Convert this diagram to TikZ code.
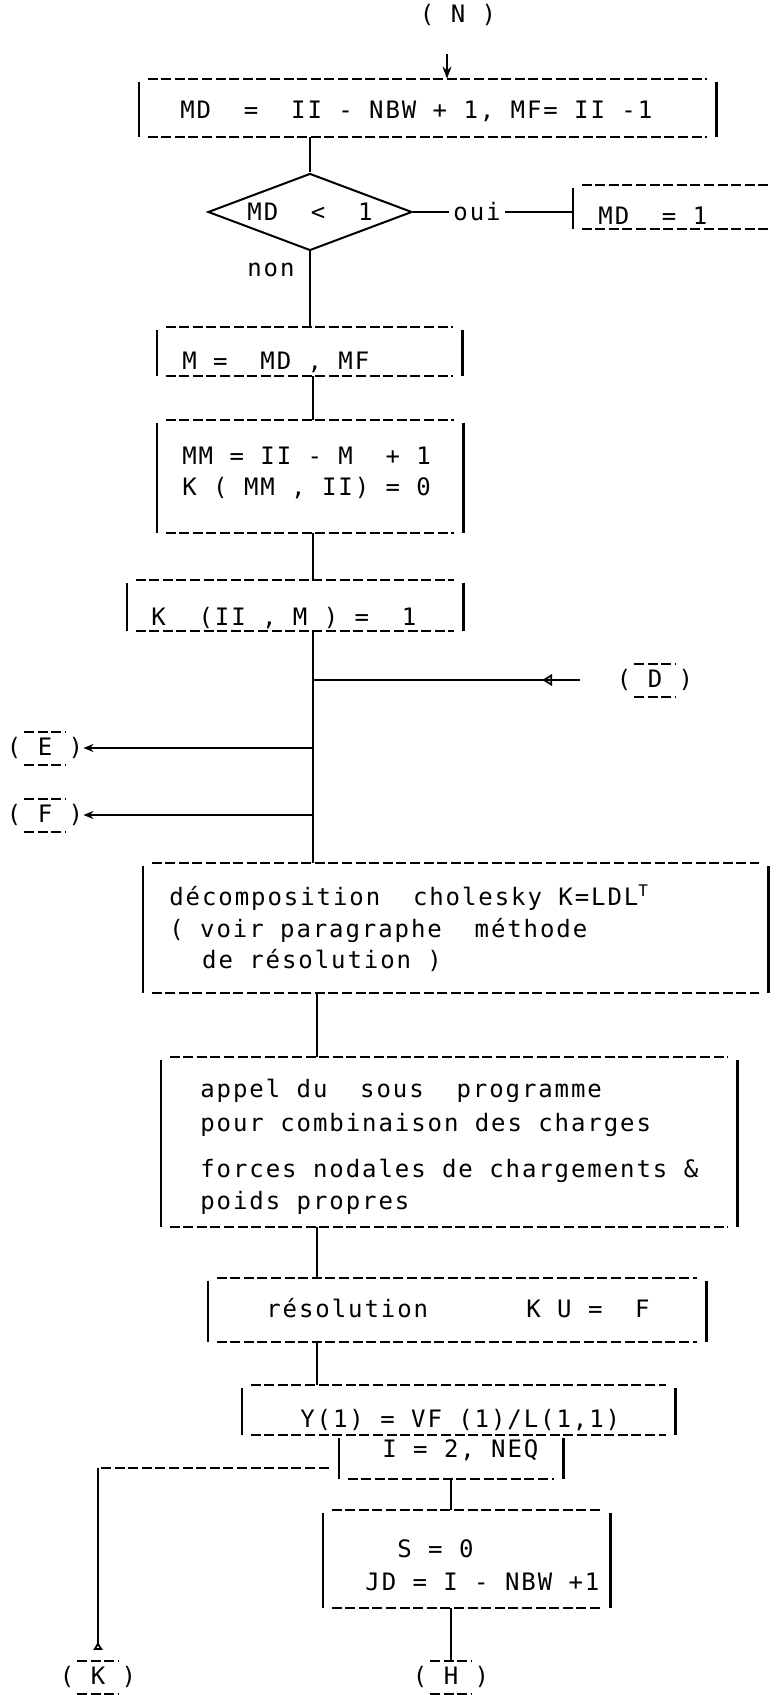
\documentclass[tikz,border=0pt]{standalone}
\usepackage{fontspec}
\newfontfamily\tw[LetterSpace=8]{DejaVu Sans Mono}
\newcommand\twf{\tw\fontsize{12pt}{14pt}\selectfont}
\usetikzlibrary{arrows.meta,shapes.geometric,decorations.markings,positioning}

\tikzset{
  dashline/.style={line width=1pt, dash pattern=on 5pt off 1.8pt},
  bar/.style={line width=1.1pt},
  wire/.style={line width=0.9pt},
  tbox/.style={inner sep=0pt},
  txt/.style={font=\twf, inner sep=0pt, anchor=base west},
  conn/.style={font=\twf, inner sep=0pt},
  decide/.style={diamond, draw, line width=1pt, inner sep=0pt, font=\twf,
    aspect=2.65, minimum width=102pt, minimum height=38.5pt},
  opentip/.style={postaction={decorate}, decoration={markings,
    mark=at position 0.14 with {\arrow{Triangle[open,length=5pt,width=6pt]}}}},
}

\begin{document}
\begin{tikzpicture}[x=0.5pt, y=-0.5pt]
\useasboundingbox (0,0) rectangle (778,1695);
\coordinate (tu) at (313,0);
\coordinate (tl) at (317,0);

% boxes
\node[tbox, minimum width=288.5pt, minimum height=29pt] (bmd) at (427.5,108) {};
\node[tbox, minimum width=103pt, minimum height=22pt] (bmone) at (676,207) {};
\node[tbox, minimum width=152.5pt, minimum height=24.5pt] (bm) at (309.5,351.5) {};
\node[tbox, minimum width=153pt, minimum height=56.5pt] (bmm) at (310,476.5) {};
\node[tbox, minimum width=168pt, minimum height=25.5pt] (bk) at (295,605.5) {};
\node[tbox, minimum width=312.5pt, minimum height=65pt] (bchol) at (455.5,928) {};
\node[tbox, minimum width=288pt, minimum height=85pt] (bappel) at (449,1142) {};
\node[tbox, minimum width=249pt, minimum height=32pt] (bres) at (457,1310) {};
\node[tbox, minimum width=216.5pt, minimum height=25pt] (by) at (458.5,1410) {};
\node[tbox, minimum width=112pt, minimum height=22pt] (bi) at (451,1457) {};
\node[tbox, minimum width=143.5pt, minimum height=49pt] (bs) at (466.5,1559) {};

\foreach \b in {bmd,bmone,bm,bmm,bk,bchol,bappel,bres,by,bs}
  \draw[dashline] ([xshift=4.5pt]\b.north west) -- ([xshift=-4.5pt]\b.north east);
\foreach \b in {bmd,bm,bmm,bk,bchol,bappel,bres,by,bi,bs}
  \draw[bar] ([yshift=-1.5pt]\b.north east) -- (\b.south east);
\foreach \b in {bmd,bmone,bm,bmm,bk,bchol,bappel,bres,by,bi,bs} {
  \draw[dashline] ([xshift=4.5pt]\b.south west) -- ([xshift=-4.5pt]\b.south east);
  \draw[bar] ([yshift=-1.5pt]\b.north west) -- (\b.south west);
}

% test
\node[decide] (dia) at (310,212) {MD~~<~~1};
\node[font=\twf, inner sep=2pt, right=18pt of dia] (oui) {oui};
\node[txt] (non) at (247,277) {non};

% texts
\node[txt] (tmd) at (180,119) {MD~~=~~II - NBW + 1, MF= II -1};
\node[txt] (tmone) at (598,225) {MD~~= 1};
\node[txt] (tm) at (182,370) {M =~~MD , MF};
\node[txt] (tmm1) at (182,465) {MM = II - M~~+ 1};
\node[txt] (tmm2) at (182,495) {K ( MM , II) = 0};
\node[txt] (tk) at (151,625) {K~~(II , M ) =~~1};
\node[txt] (tch1) at (169,905) {décomposition~~cholesky K=LDL\textsuperscript{T}};
\node[txt] (tch2) at (169,937) {( voir paragraphe~~méthode};
\node[txt] (tch3) at (169,968) {~~de résolution )};
\node[txt] (tap1) at (200,1097) {appel du~~sous~~programme};
\node[txt] (tap2) at (200,1131) {pour combinaison des charges};
\node[txt] (tap3) at (200,1177) {forces nodales de chargements \&};
\node[txt] (tap4) at (200,1209) {poids propres};
\node[txt] (tres) at (266,1317) {résolution~~~~~~K U =~~F};
\node[txt] (ty) at (300,1427) {Y(1) = VF (1)/L(1,1)};
\node[txt] (ti) at (382,1457) {I = 2, NEQ};
\node[txt] (ts1) at (397,1557) {S = 0};
\node[txt] (ts2) at (365,1590) {JD = I - NBW +1};

% connectors
\node[conn] (cn) at (458,15) {( N )};
\node[conn] (cd) at (655,680) {( D )};
\node[conn] (ce) at (45,748) {( E )};
\node[conn] (cf) at (45,815) {( F )};
\node[conn] (ck) at (98,1677) {( K )};
\node[conn] (ch) at (451,1677) {( H )};
\foreach \c in {cd,ce,cf,ck,ch} {
  \draw[dashline] ([xshift=-10.5pt,yshift=8.25pt]\c.center) -- ([xshift=10.5pt,yshift=8.25pt]\c.center);
  \draw[dashline] ([xshift=-10.5pt,yshift=-8.25pt]\c.center) -- ([xshift=10.5pt,yshift=-8.25pt]\c.center);
}

% flow lines
\coordinate (na) at ([xshift=-5.5pt,yshift=-14pt]cn.south);
\draw[wire, -{Stealth[length=6pt,width=4.5pt]}] (na) -- (na |- bmd.north);
\draw[wire] (bmd.south -| dia.north) -- (dia.north);
\draw[wire] (dia.east) -- (oui.west);
\draw[wire] (oui.east) -- (oui.east -| bmone.west);
\draw[wire] (dia.south) -- (dia.south |- bm.north);
\draw[wire] (bm.south -| tu) -- (bmm.north -| tu);
\draw[wire] (bmm.south -| tu) -- (bk.north -| tu);
\draw[wire] (bk.south -| tu) -- (bchol.north -| tu);
\draw[wire, opentip] ([xshift=-18.5pt]cd.west) -- (cd.west -| tu);
\draw[wire, -{Stealth[length=5pt,width=4pt]}] (ce.east -| tu) -- (ce.east);
\draw[wire, -{Stealth[length=5pt,width=4pt]}] (cf.east -| tu) -- (cf.east);
\draw[wire] (bchol.south -| tl) -- (bappel.north -| tl);
\draw[wire] (bappel.south -| tl) -- (bres.north -| tl);
\draw[wire] (bres.south -| tl) -- (by.north -| tl);
\draw[wire] (bi.south) -- (bi.south |- bs.north);
\draw[wire] (bs.south -| ch.north) -- ([yshift=3pt]ch.north);
\coordinate (kc) at (98,1468);
\draw[dashline, shorten <=5pt] ([yshift=-5.5pt]bi.west) -- (kc);
\draw[wire, -{Triangle[open,reversed,length=4pt,width=4.5pt]}] (kc) -- ([yshift=8pt]ck.north);
\end{tikzpicture}
\end{document}
